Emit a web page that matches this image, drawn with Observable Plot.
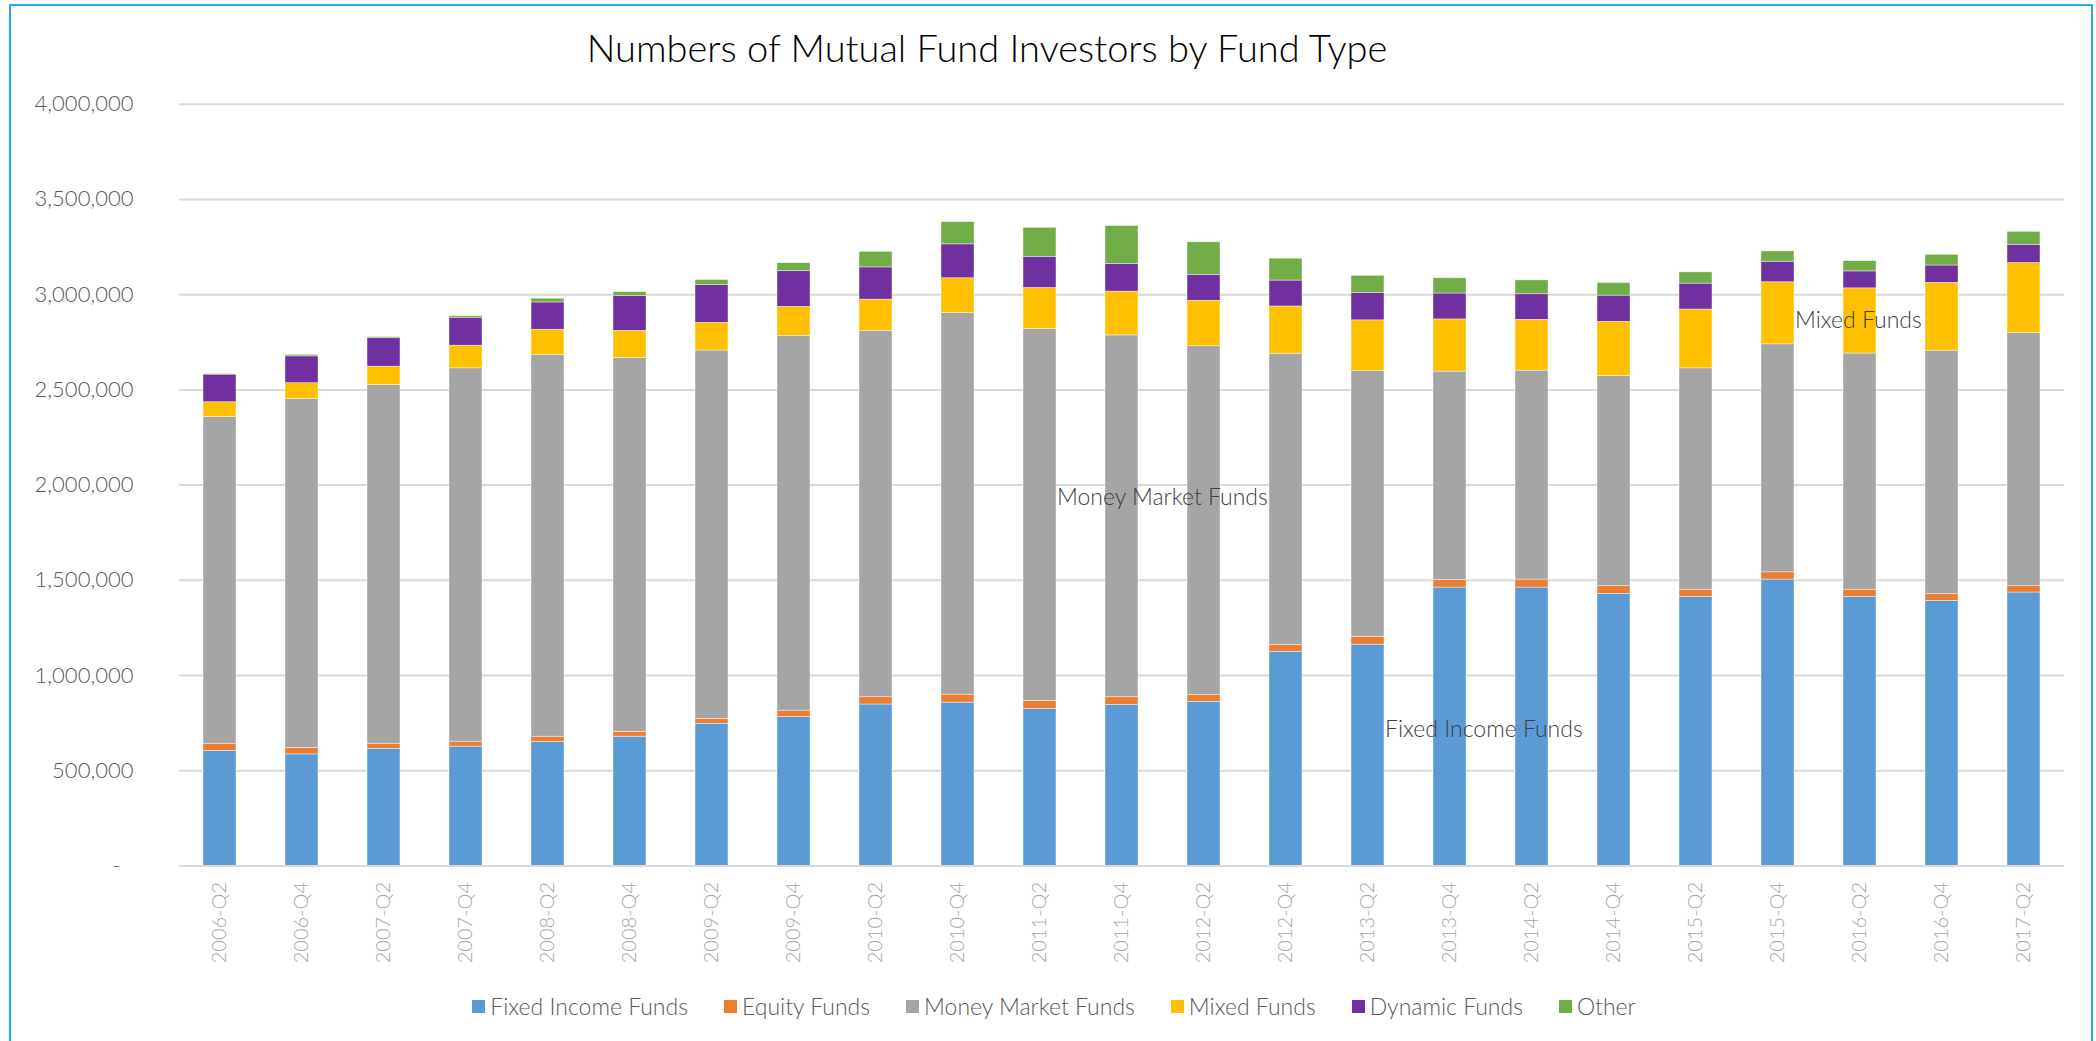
<!DOCTYPE html>
<html><head><meta charset="utf-8">
<script src="https://cdn.jsdelivr.net/npm/d3@7"></script>
<script src="https://cdn.jsdelivr.net/npm/@observablehq/plot@0.6"></script>
<style>
html,body{margin:0;padding:0;background:#fff;overflow:hidden;}
#wrap{position:relative;width:2096px;height:1041px;font-family:Lato,"Open Sans",sans-serif;}
#frame{position:absolute;left:9px;top:4px;width:2084px;height:1100px;border:2px solid #1FB0E8;box-sizing:border-box;pointer-events:none;}
#title{height:85px;box-sizing:border-box;padding-top:10px;line-height:75px;width:1974px;text-align:center;font-size:38px;font-weight:300;color:#000;}
#legend{height:42px;width:2096px;box-sizing:border-box;display:flex;justify-content:center;align-items:center;padding-left:12px;font-size:23px;font-weight:300;color:#595959;}
#legend .item{display:flex;align-items:center;margin:0 18px;}
#legend .sw{width:13px;height:13px;margin-right:5px;}
</style>
</head><body>
<div id="wrap">
<div id="title">Numbers of Mutual Fund Investors by Fund Type</div>
<div id="chart"></div>
<div id="legend"></div>
<div id="frame"></div>
</div>
<script>
const periods = ["2006-Q2","2006-Q4","2007-Q2","2007-Q4","2008-Q2","2008-Q4","2009-Q2","2009-Q4","2010-Q2","2010-Q4","2011-Q2","2011-Q4","2012-Q2","2012-Q4","2013-Q2","2013-Q4","2014-Q2","2014-Q4","2015-Q2","2015-Q4","2016-Q2","2016-Q4","2017-Q2"];
const fundTypes = ["Fixed Income Funds","Equity Funds","Money Market Funds","Mixed Funds","Dynamic Funds","Other"];
const fundColors = ["#5B9BD5","#ED7D31","#A5A5A5","#FFC000","#7030A0","#70AD47"];
const fixedIncome = [604000,586000,614000,627000,651000,679000,747000,783000,848000,858000,825000,846000,862000,1125000,1162000,1462000,1462000,1429000,1413000,1504000,1413000,1392000,1436000];
const equity = [38000,34000,28000,26000,28000,26000,26000,33000,38000,42000,42000,40000,35000,35000,42000,40000,42000,40000,38000,38000,38000,35000,33000];
const moneyMarket = [1715000,1831000,1884000,1960000,2004000,1962000,1934000,1968000,1924000,2003000,1952000,1900000,1832000,1530000,1394000,1094000,1097000,1104000,1162000,1197000,1240000,1279000,1331000];
const mixed = [78000,84000,96000,119000,133000,143000,145000,152000,164000,183000,216000,230000,239000,248000,267000,274000,267000,284000,309000,326000,342000,356000,366000];
const dynamic = [145000,141000,149000,147000,143000,183000,199000,187000,169000,178000,164000,145000,136000,136000,143000,136000,134000,138000,136000,108000,89000,91000,96000];
const other = [3000,8000,6000,8000,20000,20000,26000,42000,82000,117000,152000,199000,171000,115000,91000,80000,73000,66000,59000,54000,54000,56000,68000];
const yTicks = [0,500000,1000000,1500000,2000000,2500000,3000000,3500000,4000000];
const annotations = [
  {label:"Money Market Funds", period:"2011-Q2", value:1935000},
  {label:"Fixed Income Funds", period:"2013-Q2", value:717000},
  {label:"Mixed Funds", period:"2015-Q4", value:2865000}
];

const seriesValues = [fixedIncome, equity, moneyMarket, mixed, dynamic, other];
const data = [];
fundTypes.forEach((t, i) => periods.forEach((p, j) => data.push({period: p, type: t, value: seriesValues[i][j]})));

const chart = Plot.plot({
  width: 2096,
  height: 900,
  marginTop: 18.7,
  marginBottom: 119.5,
  marginLeft: 179,
  marginRight: 32,
  style: {fontFamily: "Lato, 'Open Sans', sans-serif", background: "transparent"},
  x: {domain: periods, paddingInner: 0.6, paddingOuter: 0.29, align: 0.5, label: null},
  y: {domain: [0, 4000000], label: null},
  color: {domain: fundTypes, range: fundColors},
  marks: [
    Plot.gridY(yTicks, {stroke: "#D9D9D9", strokeOpacity: 1, strokeWidth: 2}),
    Plot.barY(data, {x: "period", y: "value", fill: "type", z: "type", stroke: "#fff", strokeWidth: 0.6, strokeOpacity: 0.7}),
    Plot.ruleY([0], {stroke: "#D9D9D9", strokeWidth: 2}),
    Plot.axisY(yTicks, {tickSize: 0, tickPadding: 46, fontSize: 22, fontWeight: 300, fill: "#595959", label: null,
      tickFormat: d => d === 0 ? "-\u2007" : d3.format(",")(d)}),
    Plot.axisX({tickSize: 0, tickPadding: 16, tickRotate: -90, fontSize: 20, fontWeight: 300, fill: "#A6A6A6", label: null}),
    Plot.text(annotations, {x: "period", y: "value", text: "label", textAnchor: "start", dx: 17, fontSize: 23, fontWeight: 300, fill: "#404040"})
  ]
});
document.getElementById("chart").appendChild(chart);

const legend = document.getElementById("legend");
fundTypes.forEach((t, i) => {
  const it = document.createElement("div");
  it.className = "item";
  const sw = document.createElement("span");
  sw.className = "sw";
  sw.style.background = fundColors[i];
  const tx = document.createElement("span");
  tx.textContent = t;
  it.appendChild(sw); it.appendChild(tx);
  legend.appendChild(it);
});
</script>
</body></html>
